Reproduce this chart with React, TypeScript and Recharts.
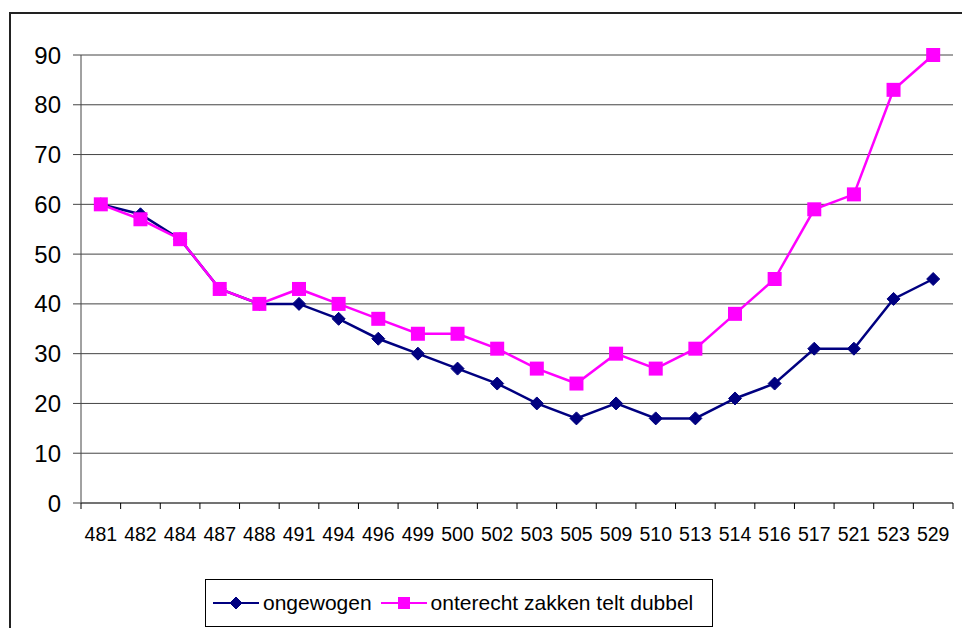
import { LineChart, Line, XAxis, YAxis, CartesianGrid, Legend } from 'recharts';

const CATEGORIES = ['481', '482', '484', '487', '488', '491', '494', '496', '499', '500', '502', '503', '505', '509', '510', '513', '514', '516', '517', '521', '523', '529'];
const ONGEWOGEN = [60, 58, 53, 43, 40, 40, 37, 33, 30, 27, 24, 20, 17, 20, 17, 17, 21, 24, 31, 31, 41, 45];
const ONTERECHT = [60, 57, 53, 43, 40, 43, 40, 37, 34, 34, 31, 27, 24, 30, 27, 31, 38, 45, 59, 62, 83, 90];
const Y_TICKS = [0, 10, 20, 30, 40, 50, 60, 70, 80, 90];

const NAVY = '#000080';
const MAGENTA = '#FF00FF';
const FONT = '"Liberation Sans", Arial, sans-serif';

const W = 962;
const H = 628;
const PLOT_LEFT = 81;
const PLOT_RIGHT = 9;
const HALF_BAND = (W - PLOT_LEFT - PLOT_RIGHT) / CATEGORIES.length / 2;

const data = CATEGORIES.map((c, i) => ({ cat: c, a: ONGEWOGEN[i], b: ONTERECHT[i] }));

function Diamond({ cx, cy, r = 6, fill }: { cx: number; cy: number; r?: number; fill: string }) {
  return <polygon points={`${cx},${cy - r} ${cx + r},${cy} ${cx},${cy + r} ${cx - r},${cy}`} fill={fill} stroke={fill} />;
}

function XTick(props: any) {
  const { x, y, payload, index } = props;
  const last = index === CATEGORIES.length - 1;
  return (
    <g>
      <line x1={x - HALF_BAND} x2={x - HALF_BAND} y1={y} y2={y + 6} stroke="#000" />
      {last && <line x1={x + HALF_BAND} x2={x + HALF_BAND} y1={y} y2={y + 6} stroke="#000" />}
      <text x={x} y={y + 38} textAnchor="middle" fontSize={19.5} fontFamily={FONT} fill="#000">
        {payload.value}
      </text>
    </g>
  );
}

function LegendBox() {
  return (
    <div style={{ boxSizing: 'border-box', width: 508, height: 48, border: '1px solid #000', background: '#fff', display: 'flex', alignItems: 'center', paddingLeft: 7, fontFamily: FONT, fontSize: 21, color: '#000' }}>
      <svg width={46} height={20} style={{ marginRight: 4 }}>
        <line x1={0} x2={46} y1={10} y2={10} stroke={NAVY} strokeWidth={2} />
        <Diamond cx={23} cy={10} r={6} fill={NAVY} />
      </svg>
      <span style={{ marginRight: 9 }}>ongewogen</span>
      <svg width={46} height={20} style={{ marginRight: 4 }}>
        <line x1={0} x2={46} y1={10} y2={10} stroke={MAGENTA} strokeWidth={2} />
        <rect x={17} y={4} width={12} height={12} fill={MAGENTA} />
      </svg>
      <span>onterecht zakken telt dubbel</span>
    </div>
  );
}

export default function App() {
  return (
    <div style={{ position: 'fixed', left: 0, top: 0, width: W, height: H, overflow: 'hidden', background: '#fff' }}>
      <div style={{ position: 'absolute', left: 9, top: 12, width: 1100, height: 800, borderLeft: '2px solid #222', borderTop: '2px solid #222' }} />
      <div style={{ position: 'absolute', left: 0, top: 0 }}>
        <LineChart width={W} height={H} data={data} margin={{ top: 55, right: PLOT_RIGHT, left: 0, bottom: 0 }}>
          <CartesianGrid vertical={false} stroke="#444" />
          <XAxis dataKey="cat" height={77} interval={0} tickLine={false} tickSize={0} tickMargin={0} stroke="#444"
            padding={{ left: HALF_BAND, right: HALF_BAND }} tick={<XTick />} />
          <YAxis width={PLOT_LEFT} domain={[0, 90]} ticks={Y_TICKS} interval={0} tickSize={8} tickMargin={12} stroke="#444"
            tick={{ fontSize: 24, fontFamily: FONT, fill: '#000' }} />
          <Legend content={() => <LegendBox />} wrapperStyle={{ position: 'absolute', left: 205, top: 579, width: 508, height: 48 }} />
          <Line dataKey="a" name="ongewogen" stroke={NAVY} strokeWidth={2.5} isAnimationActive={false}
            dot={(p: any) => <Diamond key={`a${p.index}`} cx={p.cx} cy={p.cy} r={6.5} fill={NAVY} />} />
          <Line dataKey="b" name="onterecht zakken telt dubbel" stroke={MAGENTA} strokeWidth={2.5} isAnimationActive={false}
            dot={(p: any) => <rect key={`b${p.index}`} x={p.cx - 7} y={p.cy - 7} width={14} height={14} fill={MAGENTA} />} />
        </LineChart>
      </div>
    </div>
  );
}
